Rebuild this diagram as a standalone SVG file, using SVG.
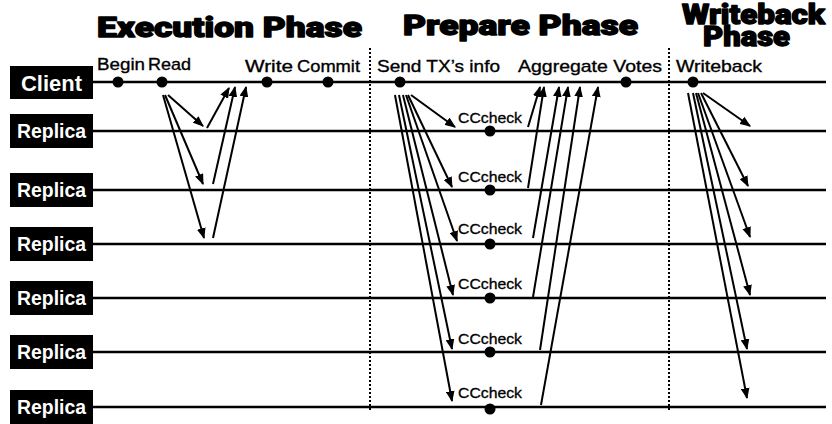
<svg xmlns="http://www.w3.org/2000/svg" width="832" height="424" viewBox="0 0 832 424">
<style>
.title{font-family:Roboto,Inter,"DejaVu Sans","Liberation Sans",sans-serif;font-weight:900;font-size:27px;fill:#000;stroke:#000;stroke-width:1.3;stroke-linejoin:round}
.lbl{font-family:"Liberation Sans",Arial,sans-serif;font-weight:bold;fill:#fff}
.ev{font-family:"Liberation Sans",Arial,sans-serif;font-size:17px;fill:#000;stroke:#000;stroke-width:0.35}
.cc{font-family:"Liberation Sans",Arial,sans-serif;font-size:15px;fill:#000;stroke:#000;stroke-width:0.3}
.tl{stroke:#000;stroke-width:2.5;fill:none}
.dot{fill:#000}
.box{fill:#000}
.sep{stroke:#000;stroke-width:2;stroke-dasharray:2 2;fill:none}
.arr{stroke:#000;stroke-width:2;fill:none;marker-end:url(#ah)}
</style>
<defs>
<marker id="ah" viewBox="0 0 10 8" refX="9" refY="4" markerWidth="11" markerHeight="9" markerUnits="userSpaceOnUse" orient="auto">
<path d="M0,0 L10,4 L0,8 z" fill="#000"/>
</marker>
</defs>
<rect width="832" height="424" fill="#fff"/>

<g id="titles">
<text class="title" x="97" y="37" textLength="265" lengthAdjust="spacingAndGlyphs">Execution Phase</text>
<text class="title" x="403" y="35" textLength="235" lengthAdjust="spacingAndGlyphs">Prepare Phase</text>
<text class="title" x="682" y="24" font-size="24" textLength="143" lengthAdjust="spacingAndGlyphs">Writeback</text>
<text class="title" x="703" y="46" font-size="24" textLength="87" lengthAdjust="spacingAndGlyphs">Phase</text>
</g>

<g id="separators">
<line class="sep" x1="370" y1="48" x2="370" y2="410"/>
<line class="sep" x1="669" y1="48" x2="669" y2="410"/>
</g>

<g id="timelines">
<line class="tl" x1="93" y1="82" x2="826" y2="82"/>
<line class="tl" x1="93" y1="131" x2="826" y2="131"/>
<line class="tl" x1="93" y1="190" x2="826" y2="190"/>
<line class="tl" x1="93" y1="244" x2="826" y2="244"/>
<line class="tl" x1="93" y1="298" x2="826" y2="298"/>
<line class="tl" x1="93" y1="352" x2="826" y2="352"/>
<line class="tl" x1="93" y1="407" x2="826" y2="407"/>
</g>

<g id="client">
<rect class="box" x="10" y="66" width="83" height="33"/>
<text class="lbl" x="51.5" y="91" font-size="22" text-anchor="middle" textLength="61" lengthAdjust="spacingAndGlyphs">Client</text>
</g>
<g id="replica1">
<rect class="box" x="10" y="114" width="83" height="34"/>
<text class="lbl" x="51.5" y="138" font-size="20" text-anchor="middle" textLength="69" lengthAdjust="spacingAndGlyphs">Replica</text>
</g>
<g id="replica2">
<rect class="box" x="10" y="173" width="83" height="34"/>
<text class="lbl" x="51.5" y="197" font-size="20" text-anchor="middle" textLength="69" lengthAdjust="spacingAndGlyphs">Replica</text>
</g>
<g id="replica3">
<rect class="box" x="10" y="227" width="83" height="34"/>
<text class="lbl" x="51.5" y="251" font-size="20" text-anchor="middle" textLength="69" lengthAdjust="spacingAndGlyphs">Replica</text>
</g>
<g id="replica4">
<rect class="box" x="10" y="281" width="83" height="34"/>
<text class="lbl" x="51.5" y="305" font-size="20" text-anchor="middle" textLength="69" lengthAdjust="spacingAndGlyphs">Replica</text>
</g>
<g id="replica5">
<rect class="box" x="10" y="335" width="83" height="34"/>
<text class="lbl" x="51.5" y="359" font-size="20" text-anchor="middle" textLength="69" lengthAdjust="spacingAndGlyphs">Replica</text>
</g>
<g id="replica6">
<rect class="box" x="10" y="390" width="83" height="34"/>
<text class="lbl" x="51.5" y="414" font-size="20" text-anchor="middle" textLength="69" lengthAdjust="spacingAndGlyphs">Replica</text>
</g>

<g id="ev-begin"><circle class="dot" cx="118" cy="82" r="5.5"/><text class="ev" x="97" y="70" textLength="48" lengthAdjust="spacingAndGlyphs">Begin</text></g>
<g id="ev-read"><circle class="dot" cx="162" cy="82" r="5.5"/><text class="ev" x="148" y="70" textLength="43" lengthAdjust="spacingAndGlyphs">Read</text></g>
<g id="ev-write"><circle class="dot" cx="267" cy="82" r="5.5"/><text class="ev" x="245" y="72" textLength="48" lengthAdjust="spacingAndGlyphs">Write</text></g>
<g id="ev-commit"><circle class="dot" cx="328" cy="82" r="5.5"/><text class="ev" x="297" y="72" textLength="63" lengthAdjust="spacingAndGlyphs">Commit</text></g>
<g id="ev-send"><circle class="dot" cx="400" cy="82" r="5.5"/><text class="ev" x="377" y="72" textLength="123" lengthAdjust="spacingAndGlyphs">Send TX’s info</text></g>
<g id="ev-aggregate"><circle class="dot" cx="626" cy="82" r="5.5"/><text class="ev" x="518" y="72" textLength="144" lengthAdjust="spacingAndGlyphs">Aggregate Votes</text></g>
<g id="ev-writeback"><circle class="dot" cx="693" cy="82" r="5.5"/><text class="ev" x="676" y="72" textLength="86" lengthAdjust="spacingAndGlyphs">Writeback</text></g>

<g id="cccheck">
<circle class="dot" cx="490" cy="131" r="5.5"/><text class="cc" x="458" y="123" textLength="64" lengthAdjust="spacingAndGlyphs">CCcheck</text>
<circle class="dot" cx="490" cy="190" r="5.5"/><text class="cc" x="458" y="182" textLength="64" lengthAdjust="spacingAndGlyphs">CCcheck</text>
<circle class="dot" cx="490" cy="244" r="5.5"/><text class="cc" x="458" y="234" textLength="64" lengthAdjust="spacingAndGlyphs">CCcheck</text>
<circle class="dot" cx="490" cy="298" r="5.5"/><text class="cc" x="458" y="289" textLength="64" lengthAdjust="spacingAndGlyphs">CCcheck</text>
<circle class="dot" cx="490" cy="352" r="5.5"/><text class="cc" x="458" y="344" textLength="64" lengthAdjust="spacingAndGlyphs">CCcheck</text>
<circle class="dot" cx="490" cy="409" r="5.5"/><text class="cc" x="458" y="398" textLength="64" lengthAdjust="spacingAndGlyphs">CCcheck</text>
</g>

<g id="connectors">
<line class="arr" x1="168" y1="95" x2="203" y2="126"/>
<line class="arr" x1="165" y1="95" x2="203" y2="184"/>
<line class="arr" x1="163" y1="95" x2="204" y2="238"/>
<line class="arr" x1="207" y1="128" x2="229" y2="88"/>
<line class="arr" x1="213" y1="184" x2="235" y2="87"/>
<line class="arr" x1="213" y1="238" x2="246" y2="87"/>

<line class="arr" x1="411" y1="95" x2="455" y2="127"/>
<line class="arr" x1="408" y1="95" x2="452" y2="187"/>
<line class="arr" x1="406" y1="95" x2="457" y2="241"/>
<line class="arr" x1="403" y1="95" x2="453" y2="295"/>
<line class="arr" x1="399" y1="95" x2="452" y2="349"/>
<line class="arr" x1="395" y1="95" x2="452" y2="401"/>

<line class="arr" x1="528" y1="127" x2="540" y2="87"/>
<line class="arr" x1="528" y1="188" x2="544" y2="87"/>
<line class="arr" x1="533" y1="238" x2="559" y2="87"/>
<line class="arr" x1="533" y1="297" x2="568" y2="87"/>
<line class="arr" x1="540" y1="350" x2="580" y2="87"/>
<line class="arr" x1="541" y1="405" x2="598" y2="87"/>

<line class="arr" x1="703" y1="93" x2="750" y2="126"/>
<line class="arr" x1="701" y1="93" x2="748" y2="186"/>
<line class="arr" x1="698" y1="93" x2="750" y2="237"/>
<line class="arr" x1="696" y1="93" x2="750" y2="295"/>
<line class="arr" x1="693" y1="93" x2="747" y2="349"/>
<line class="arr" x1="688" y1="93" x2="747" y2="398"/>
</g>
</svg>
